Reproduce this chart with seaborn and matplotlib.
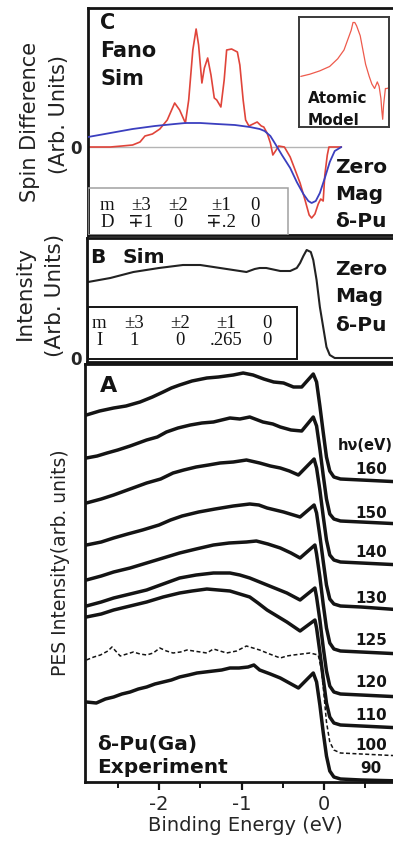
import matplotlib
matplotlib.use("Agg")
import matplotlib.pyplot as plt
from matplotlib.patches import Rectangle
from matplotlib.ticker import FixedLocator
import seaborn as sns

# ---------------- data ----------------
# Panel C : spin difference (Fano simulation, red) and smooth fit (blue)
fano_be = [-2.86, -2.59, -2.45, -2.32, -2.23, -2.17, -2.08, -1.99, -1.90, -1.81, -1.75, -1.68,
           -1.64, -1.59, -1.55, -1.52, -1.48, -1.45, -1.41, -1.37, -1.33, -1.30, -1.25, -1.21,
           -1.18, -1.12, -1.05, -1.02, -0.98, -0.95, -0.91, -0.86, -0.81, -0.76, -0.73, -0.69,
           -0.65, -0.62, -0.58, -0.55, -0.48, -0.41, -0.35, -0.29, -0.23, -0.18, -0.15, -0.11,
           -0.07, -0.04, -0.01, 0.01, 0.04, 0.06, 0.21]
fano_spin = [0, 0, 1, 2, 5, 11, 13, 18, 27, 44, 37, 24,
             47, 97, 118, 102, 64, 79, 89, 72, 49, 47, 40, 67,
             97, 98, 95, 82, 47, 27, 21, 23, 25, 21, 20, 14,
             4, -8, -3, 1, 0, -10, -23, -36, -53, -68, -71, -67,
             -57, -52, -54, -28, -8, 0, 0]
fit_be = [-2.86, -2.59, -2.32, -2.05, -1.81, -1.68, -1.50, -1.30, -1.08, -0.90, -0.78, -0.72,
          -0.65, -0.59, -0.51, -0.41, -0.33, -0.25, -0.19, -0.15, -0.10, -0.05, 0.01, 0.07,
          0.13, 0.21]
fit_spin = [10, 14, 18, 21, 23, 24, 24, 23, 22, 20, 18, 16,
            11, 3, -8, -21, -35, -47, -54, -56, -54, -46, -31, -15,
            -4, 0]
# inset: atomic model (arbitrary units)
atomic_x = [0.02, 0.12, 0.23, 0.34, 0.43, 0.50, 0.54, 0.58, 0.60, 0.62, 0.64, 0.68, 0.71,
            0.74, 0.78, 0.81, 0.84, 0.87, 0.89, 0.91, 0.92, 0.93, 0.94, 0.96, 0.98, 1.00]
atomic_y = [0.46, 0.48, 0.51, 0.55, 0.62, 0.70, 0.79, 0.88, 0.95, 0.95, 0.92, 0.83, 0.70,
            0.57, 0.46, 0.39, 0.35, 0.41, 0.37, 0.26, 0.15, 0.07, 0.20, 0.35, 0.35, 0.36]

# Panel B : simulated intensity
sim_be = [-2.86, -2.59, -2.31, -2.00, -1.71, -1.50, -1.34, -1.10, -0.94, -0.84, -0.78, -0.70,
          -0.53, -0.41, -0.33, -0.29, -0.25, -0.21, -0.16, -0.13, -0.09, -0.05, -0.01, 0.03,
          0.07, 0.13, 0.25, 0.95]
sim_int = [76, 80, 86, 90, 93, 93, 91, 88, 86, 89, 90, 90,
           87, 87, 90, 95, 102, 108, 106, 98, 78, 51, 31, 11,
           3, 0, 0, 0]

# Panel A : PES spectra for each photon energy (top to bottom)
photon_energies = ["160", "150", "140", "130", "125", "120", "110", "100", "90"]
be_160 = [-2.88, -2.72, -2.55, -2.40, -2.23, -2.08, -1.95, -1.85, -1.75, -1.60, -1.42, -1.28, -1.10,
          -0.98, -0.86, -0.73, -0.61, -0.49, -0.37, -0.27, -0.13, -0.09, -0.05, -0.01, 0.03, 0.07,
          0.12, 0.20, 0.45, 0.95]
pes_160 = [367, 371, 374, 376, 380, 385, 390, 394, 397, 401, 404, 405, 407,
           409, 407, 403, 400, 399, 395, 395, 408, 400, 376, 350, 325, 311,
           305, 303, 302, 300]
be_150 = [-2.88, -2.75, -2.63, -2.50, -2.35, -2.15, -2.02, -1.91, -1.77, -1.62, -1.48, -1.34, -1.14,
          -1.02, -0.90, -0.74, -0.62, -0.53, -0.40, -0.27, -0.13, -0.09, -0.05, -0.01, 0.03, 0.07,
          0.12, 0.20, 0.45, 0.95]
pes_150 = [324, 326, 329, 332, 336, 342, 345, 350, 354, 357, 359, 360, 364,
           363, 365, 360, 358, 355, 352, 351, 365, 356, 333, 307, 283, 268,
           263, 261, 260, 258]
be_140 = [-2.88, -2.70, -2.55, -2.35, -2.15, -1.98, -1.83, -1.70, -1.55, -1.40, -1.26, -1.10, -0.94,
          -0.78, -0.65, -0.53, -0.42, -0.31, -0.12, -0.09, -0.05, -0.01, 0.03, 0.07, 0.12, 0.20,
          0.45, 0.95]
pes_140 = [279, 283, 287, 293, 299, 303, 309, 312, 315, 317, 319, 320, 322,
           319, 316, 314, 311, 307, 323, 314, 292, 266, 242, 227, 222, 220,
           219, 217]
be_130 = [-2.88, -2.70, -2.55, -2.38, -2.20, -2.00, -1.86, -1.72, -1.52, -1.32, -1.10, -0.90, -0.79,
          -0.69, -0.49, -0.37, -0.29, -0.12, -0.09, -0.05, -0.01, 0.03, 0.07, 0.12, 0.20, 0.45, 0.95]
pes_130 = [237, 240, 244, 248, 252, 257, 262, 266, 270, 273, 276, 278, 277,
           274, 270, 267, 265, 277, 269, 246, 221, 197, 183, 178, 176, 175, 172]
be_125 = [-2.88, -2.70, -2.55, -2.35, -2.15, -1.95, -1.75, -1.55, -1.34, -1.15, -0.94, -0.82, -0.68,
          -0.53, -0.40, -0.29, -0.11, -0.09, -0.05, -0.01, 0.03, 0.07, 0.12, 0.20, 0.45, 0.95]
pes_125 = [202, 206, 210, 214, 219, 224, 229, 233, 237, 239, 240, 241, 238,
           234, 229, 224, 237, 228, 205, 178, 154, 139, 133, 131, 130, 128]
be_120 = [-2.88, -2.70, -2.55, -2.35, -2.15, -1.95, -1.75, -1.55, -1.34, -1.14, -1.02, -0.90, -0.69,
          -0.45, -0.29, -0.11, -0.09, -0.05, -0.01, 0.03, 0.07, 0.12, 0.20, 0.45, 0.95]
pes_120 = [176, 180, 184, 188, 192, 198, 204, 207, 209, 209, 207, 204, 197,
           189, 182, 194, 185, 162, 135, 111, 96, 90, 88, 87, 85]
be_110 = [-2.88, -2.70, -2.55, -2.35, -2.15, -1.95, -1.75, -1.60, -1.42, -1.28, -1.14, -0.90, -0.80,
          -0.69, -0.57, -0.45, -0.29, -0.11, -0.09, -0.05, -0.01, 0.03, 0.07, 0.12, 0.20, 0.45, 0.95]
pes_110 = [165, 168, 172, 176, 180, 185, 189, 191, 193, 192, 191, 185, 179,
           172, 166, 160, 151, 162, 154, 130, 104, 79, 65, 59, 57, 56, 54]
be_100 = [-2.88, -2.79, -2.71, -2.62, -2.57, -2.47, -2.39, -2.31, -2.23, -2.15, -2.07, -1.99, -1.91,
          -1.83, -1.74, -1.66, -1.58, -1.50, -1.42, -1.34, -1.26, -1.18, -1.06, -0.94, -0.86, -0.78,
          -0.66, -0.53, -0.45, -0.37, -0.27, -0.17, -0.07, -0.03, 0.00, 0.03, 0.07, 0.12, 0.20,
          0.45, 0.95]
pes_100 = [122, 125, 127, 131, 135, 126, 128, 130, 128, 127, 129, 134, 131,
           129, 130, 132, 131, 130, 129, 133, 131, 129, 131, 136, 134, 132,
           128, 124, 126, 127, 128, 129, 127, 112, 87, 60, 40, 32, 29,
           28, 26]
be_90 = [-2.88, -2.76, -2.65, -2.55, -2.45, -2.35, -2.25, -2.15, -2.05, -1.95, -1.85, -1.75, -1.64,
         -1.54, -1.44, -1.34, -1.24, -1.14, -1.03, -0.92, -0.85, -0.78, -0.65, -0.53, -0.42, -0.31,
         -0.13, -0.09, -0.05, -0.01, 0.03, 0.07, 0.12, 0.20, 0.45, 0.95]
pes_90 = [80, 79, 83, 85, 88, 90, 93, 95, 98, 100, 102, 105, 107,
          109, 110, 111, 112, 114, 114, 115, 117, 112, 108, 104, 99, 94,
          109, 100, 77, 50, 26, 11, 5, 3, 2, 1]

spectra_be = [be_160, be_150, be_140, be_130, be_125, be_120, be_110, be_100, be_90]
spectra_int = [pes_160, pes_150, pes_140, pes_130, pes_125, pes_120, pes_110, pes_100, pes_90]

table_c_m = ["m", "±3", "±2", "±1", "0"]
table_c_d = ["D", "∓1", "0", "∓.2", "0"]
table_b_m = ["m", "±3", "±2", "±1", "0"]
table_b_i = ["I", "1", "0", ".265", "0"]
x_ticks = [-2, -1, 0]
x_minor = [-2.5, -1.5, -0.5, 0.5]

# ---------------- style ----------------
sns.set_theme(style="white")
plt.rcParams['font.family'] = ['DejaVu Sans']
plt.rcParams['axes.unicode_minus'] = False

W, H = 393, 843
fig = plt.figure(figsize=(W / 100, H / 100), dpi=100)
fig.patch.set_facecolor("white")

SERIF = ['Liberation Serif', 'DejaVu Serif']
INK = "#141414"


def be_of(px):
    return (px - 324) / 82.5


def add_axes(l, t, r, b):
    return fig.add_axes([l / W, 1 - b / H, (r - l) / W, (b - t) / H])


def ftext(px, py, s, **kw):
    return fig.text(px / W, 1 - py / H, s, **kw)


def frame(ax, lw=2.0, color=INK):
    for sp in ax.spines.values():
        sp.set_linewidth(lw)
        sp.set_color(color)
        sp.set_visible(True)


# ---------------- Panel C ----------------
axC = add_axes(88, 8, 405, 235)
axC.set_xlim(be_of(88), be_of(405))
axC.set_ylim(-88, 139)
axC.hlines(0, be_of(88), fano_be[-1], color="#b4b4b4", lw=1.0, zorder=1)
sns.lineplot(x=fit_be, y=fit_spin, ax=axC, color="#3b3fbf", linewidth=1.3,
             sort=False, estimator=None, zorder=3)
sns.lineplot(x=fano_be, y=fano_spin, ax=axC, color="#e0443a", linewidth=1.2,
             sort=False, estimator=None, zorder=2)
axC.set_xticks([])
axC.set_yticks([0])
axC.set_yticklabels(["0"], fontsize=12, fontweight="bold")
axC.tick_params(axis="y", length=0, pad=4.5)
axC.set_xlabel("")
axC.set_ylabel("")
frame(axC)
axC.add_patch(Rectangle((0, 0), (288 - 88) / (405 - 88), (235 - 188) / (235 - 8),
                        transform=axC.transAxes, fill=False, edgecolor="#a0a0a0",
                        lw=1.1, zorder=4))

# inset
axI = add_axes(299, 17, 389, 127)
sns.lineplot(x=atomic_x, y=atomic_y, ax=axI, color="#ee5a4c", linewidth=0.9,
             sort=False, estimator=None)
axI.set_xlim(0, 1)
axI.set_ylim(0, 1)
axI.set_xticks([])
axI.set_yticks([])
axI.set_xlabel("")
axI.set_ylabel("")
frame(axI, lw=1.4, color="#3a3a3a")

# ---------------- Panel B ----------------
axB = add_axes(87, 238, 405, 362)
axB.set_xlim(be_of(87), be_of(405))
axB.set_ylim(-4, 120)
sns.lineplot(x=sim_be, y=sim_int, ax=axB, color="#222222", linewidth=1.5,
             sort=False, estimator=None)
axB.set_xticks([])
axB.set_yticks([0])
axB.set_yticklabels(["0"], fontsize=12, fontweight="bold")
axB.tick_params(axis="y", length=0, pad=3.5)
axB.set_xlabel("")
axB.set_ylabel("")
frame(axB)
axB.add_patch(Rectangle(((88 - 87) / (405 - 87), (362 - 359) / 124),
                        (297 - 88) / (405 - 87), (359 - 307) / 124,
                        transform=axB.transAxes, fill=False, edgecolor=INK,
                        lw=1.4, zorder=4))

# ---------------- Panel A ----------------
axA = add_axes(85, 364, 405, 782)
axA.set_xlim(be_of(85), be_of(405))
axA.set_ylim(0, 418)
for name, xs, ys in zip(photon_energies, spectra_be, spectra_int):
    if name == "100":
        sns.lineplot(x=xs, y=ys, ax=axA, color=INK, linewidth=1.1,
                     sort=False, estimator=None)
        axA.lines[-1].set_dashes([2.6, 1.6])
    else:
        sns.lineplot(x=xs, y=ys, ax=axA, color=INK, linewidth=2.5,
                     sort=False, estimator=None)
axA.xaxis.set_major_locator(FixedLocator(x_ticks))
axA.xaxis.set_minor_locator(FixedLocator(x_minor))
axA.set_xticklabels([str(t) for t in x_ticks])
axA.tick_params(axis="x", which="major", direction="out", length=6, width=1.6,
                color=INK, labelsize=14, pad=3, bottom=True)
axA.tick_params(axis="x", which="minor", direction="out", length=4, width=1.4,
                color=INK, bottom=True)
axA.set_yticks([])
axA.set_ylabel("")
axA.set_xlabel("Binding Energy (eV)", fontsize=14, labelpad=2)
frame(axA)

# ---------------- texts ----------------
bold = dict(fontweight="bold", color=INK)
ftext(100, 29, "C", fontsize=15, **bold)
ftext(100, 57, "Fano", fontsize=15, **bold)
ftext(100, 85, "Sim", fontsize=15, **bold)
ftext(308, 103, "Atomic", fontsize=11, **bold)
ftext(308, 125, "Model", fontsize=11, **bold)
for py, s in zip([173, 200, 227], ["Zero", "Mag", "δ-Pu"]):
    ftext(335, py, s, fontsize=14.5, **bold)

ftext(90, 263, "B", fontsize=14.5, **bold)
ftext(122, 263, "Sim", fontsize=14.5, **bold)
for py, s in zip([275, 302, 331], ["Zero", "Mag", "δ-Pu"]):
    ftext(335, py, s, fontsize=14.5, **bold)

ftext(100, 392, "A", fontsize=16, **bold)
ftext(97, 750, "δ-Pu(Ga)", fontsize=14.5, **bold)
ftext(97, 773, "Experiment", fontsize=14.5, **bold)
ftext(338, 450, "hν(eV)", fontsize=10.5, **bold)
for py, s in zip([474, 518, 557, 603, 645, 687, 720, 750, 773], photon_energies):
    ftext(371, py, s, fontsize=11, ha="center", **bold)

# tables: one two-line text per column
tab = dict(family=SERIF, ha="center", va="center", multialignment="center",
           color=INK, linespacing=0.95)
for px, a, b in zip([107, 141, 178, 221, 255], table_c_m, table_c_d):
    ftext(px, 214, a + "\n" + b, fontsize=13.5, **tab)
for px, a, b in zip([99, 134, 180, 226, 267], table_b_m, table_b_i):
    ftext(px, 332, a + "\n" + b, fontsize=13.5, **tab)

# y labels
ylab = dict(rotation=90, ha="center", va="center", color="#222222")
ftext(30, 122, "Spin Difference", fontsize=15, **ylab)
ftext(59, 115, "(Arb. Units)", fontsize=15, **ylab)
ftext(25, 293, "Intensity", fontsize=15.5, **ylab)
ftext(55, 295, "(Arb. Units)", fontsize=15.5, **ylab)
ftext(60, 563, "PES Intensity(arb. units)", fontsize=13.5, **ylab)

fig.savefig("out.png", dpi=100, facecolor="white")
